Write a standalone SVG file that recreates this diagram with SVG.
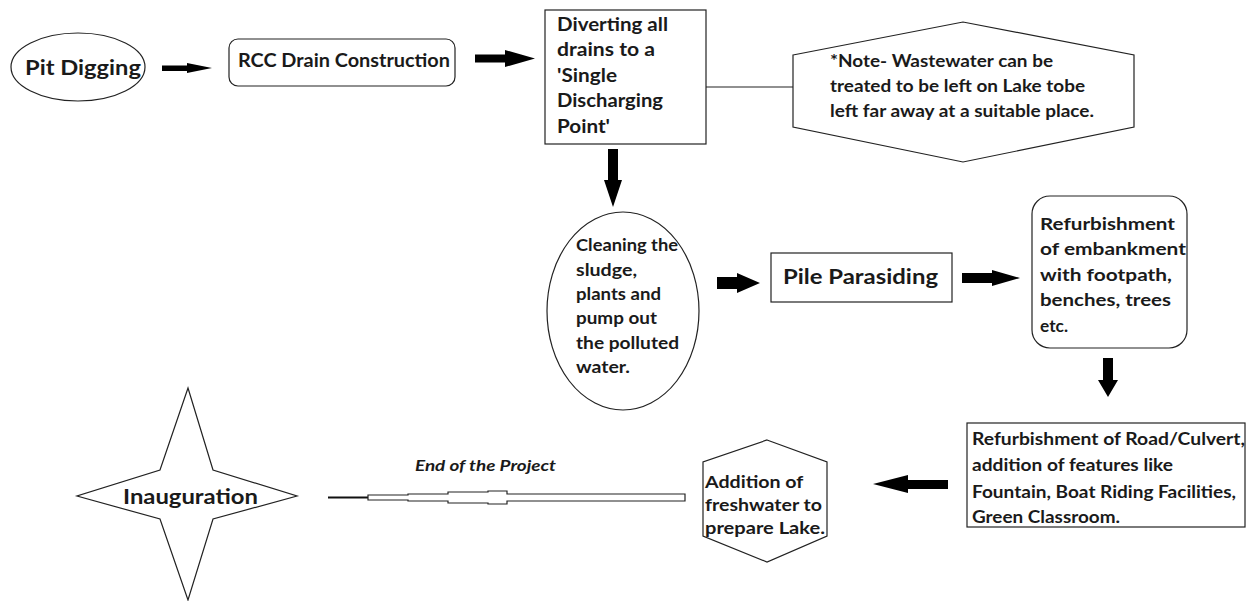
<svg xmlns="http://www.w3.org/2000/svg" width="1246" height="601" viewBox="0 0 1246 601">
<style>
.shape{fill:#fff;stroke:#222;stroke-width:1.2}
.t{font-family:Lato,"Liberation Sans",sans-serif;font-weight:bold;fill:#1a1a1a}
.arrow{fill:#000;stroke:none}
</style>
<rect width="1246" height="601" fill="#fff"/>
<g id="connectors">
<polygon class="arrow" points="162,65.5 187,65.5 187,63 212,68 187,73 187,71 162,71"/>
<polygon class="arrow" points="475,54.5 505,54.5 505,50 535,58.5 505,67 505,62.5 475,62.5"/>
<line x1="706" y1="87" x2="793" y2="87" stroke="#222" stroke-width="1.2"/>
<polygon class="arrow" points="608,149 618,149 618,180 622,180 613,207 604,180 608,180"/>
<polygon class="arrow" points="717,277 737,277 737,273 760,283 737,293 737,289 717,289"/>
<polygon class="arrow" points="962,273 992,273 992,270 1020,278 992,286 992,283 962,283"/>
<polygon class="arrow" points="1103,358 1113,358 1113,380 1118,380 1108,397 1098,380 1103,380"/>
<polygon class="arrow" points="948,480 908,480 908,475 873,484 908,493 908,489 948,489"/>
<line x1="328" y1="497.5" x2="368" y2="497.5" stroke="#111" stroke-width="2"/>
<path class="shape" d="M368,495 L408,495 L408,494 L448,494 L448,492 L488,492 L488,491 L507,491 L507,494 L685,494 L685,501 L507,501 L507,504 L488,504 L488,503 L448,503 L448,501 L408,501 L408,500 L368,500 Z"/>
<text class="t" x="415" y="471" font-size="15" font-style="italic" textLength="141" lengthAdjust="spacingAndGlyphs">End of the Project</text>
</g>
<g id="pit-digging">
<ellipse class="shape" cx="78" cy="67" rx="67" ry="34"/>
<text class="t" x="25" y="75" font-size="21.5" textLength="116" lengthAdjust="spacingAndGlyphs">Pit Digging</text>
</g>
<g id="rcc-drain">
<rect class="shape" x="229" y="39" width="226" height="47" rx="9"/>
<text class="t" x="238" y="67" font-size="19" textLength="212" lengthAdjust="spacingAndGlyphs">RCC Drain Construction</text>
</g>
<g id="diverting">
<rect class="shape" x="545" y="10" width="161" height="134"/>
<text class="t" font-size="18.5">
<tspan x="557" y="30.5" textLength="111" lengthAdjust="spacingAndGlyphs">Diverting all</tspan>
<tspan x="557" y="56" textLength="98" lengthAdjust="spacingAndGlyphs">drains to a</tspan>
<tspan x="557" y="81.5" textLength="60" lengthAdjust="spacingAndGlyphs">'Single</tspan>
<tspan x="557" y="107" textLength="106" lengthAdjust="spacingAndGlyphs">Discharging</tspan>
<tspan x="557" y="132.5" textLength="53" lengthAdjust="spacingAndGlyphs">Point'</tspan>
</text>
</g>
<g id="note">
<polygon class="shape" points="793,55 963,22 1134,55 1134,127 963,162 793,127"/>
<text class="t" font-size="16.5">
<tspan x="830" y="67" textLength="223" lengthAdjust="spacingAndGlyphs">*Note- Wastewater can be</tspan>
<tspan x="830" y="92" textLength="255" lengthAdjust="spacingAndGlyphs">treated to be left on Lake tobe</tspan>
<tspan x="830" y="117" textLength="264" lengthAdjust="spacingAndGlyphs">left far away at a suitable place.</tspan>
</text>
</g>
<g id="cleaning">
<ellipse class="shape" cx="623" cy="311" rx="76" ry="99"/>
<text class="t" font-size="17">
<tspan x="576" y="251" textLength="102" lengthAdjust="spacingAndGlyphs">Cleaning the</tspan>
<tspan x="576" y="275.5" textLength="61" lengthAdjust="spacingAndGlyphs">sludge,</tspan>
<tspan x="576" y="299.5" textLength="85" lengthAdjust="spacingAndGlyphs">plants and</tspan>
<tspan x="576" y="324" textLength="81" lengthAdjust="spacingAndGlyphs">pump out</tspan>
<tspan x="576" y="348.5" textLength="103" lengthAdjust="spacingAndGlyphs">the polluted</tspan>
<tspan x="576" y="373" textLength="54" lengthAdjust="spacingAndGlyphs">water.</tspan>
</text>
</g>
<g id="pile-parasiding">
<rect class="shape" x="771" y="253" width="181" height="49"/>
<text class="t" x="783" y="284" font-size="20.5" textLength="155" lengthAdjust="spacingAndGlyphs">Pile Parasiding</text>
</g>
<g id="refurb-embankment">
<rect class="shape" x="1032" y="196" width="155" height="152" rx="18"/>
<text class="t" font-size="17.5">
<tspan x="1040" y="229.5" textLength="135" lengthAdjust="spacingAndGlyphs">Refurbishment</tspan>
<tspan x="1040" y="255" textLength="146" lengthAdjust="spacingAndGlyphs">of embankment</tspan>
<tspan x="1040" y="280.5" textLength="132" lengthAdjust="spacingAndGlyphs">with footpath,</tspan>
<tspan x="1040" y="306" textLength="131" lengthAdjust="spacingAndGlyphs">benches, trees</tspan>
<tspan x="1040" y="331.5" textLength="28" lengthAdjust="spacingAndGlyphs">etc.</tspan>
</text>
</g>
<g id="refurb-road">
<rect class="shape" x="967" y="423" width="278" height="104"/>
<text class="t" font-size="16.5">
<tspan x="972" y="444.5" textLength="273" lengthAdjust="spacingAndGlyphs">Refurbishment of Road/Culvert,</tspan>
<tspan x="972" y="471" textLength="201" lengthAdjust="spacingAndGlyphs">addition of features like</tspan>
<tspan x="972" y="497.5" textLength="264" lengthAdjust="spacingAndGlyphs">Fountain, Boat Riding Facilities,</tspan>
<tspan x="972" y="523" textLength="148" lengthAdjust="spacingAndGlyphs">Green Classroom.</tspan>
</text>
</g>
<g id="freshwater">
<polygon class="shape" points="767,440 827,462 827,536 767,562 703,536 703,462"/>
<text class="t" font-size="17">
<tspan x="705" y="487.5" textLength="98" lengthAdjust="spacingAndGlyphs">Addition of</tspan>
<tspan x="705" y="510.5" textLength="117" lengthAdjust="spacingAndGlyphs">freshwater to</tspan>
<tspan x="705" y="533.5" textLength="120" lengthAdjust="spacingAndGlyphs">prepare Lake.</tspan>
</text>
</g>
<g id="inauguration">
<polygon class="shape" points="188,388 213,470 297,496 213,519 188,600 160,519 77,496 160,470"/>
<text class="t" x="123" y="504" font-size="21" textLength="135" lengthAdjust="spacingAndGlyphs">Inauguration</text>
</g>
</svg>
